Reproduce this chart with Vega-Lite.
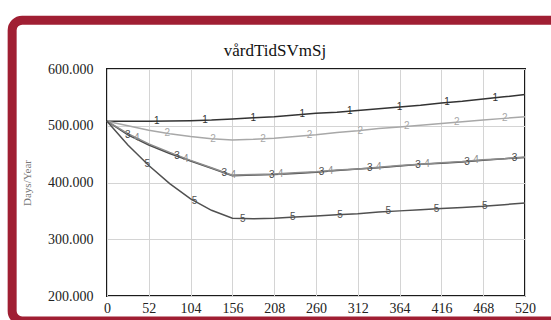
{
  "$schema": "https://vega.github.io/schema/vega-lite/v6.json",
  "autosize": {"type": "none"},
  "width": 418,
  "height": 227,
  "padding": {"left": 107, "top": 69, "right": 26, "bottom": 24},
  "background": "white",
  "title": {"text": "vårdTidSVmSj", "font": "Liberation Serif, Times New Roman, serif", "fontSize": 17, "fontWeight": "normal", "color": "#111", "anchor": "middle", "frame": "group", "dx": -41, "offset": -44},
  "config": {
    "view": {"stroke": "#1a1a1a", "strokeWidth": 2},
    "axis": {"labelFont": "Liberation Serif, Times New Roman, serif", "titleFont": "Liberation Serif, Times New Roman, serif", "labelColor": "#222", "ticks": false, "domain": false, "gridColor": "#d4d4d4", "gridWidth": 1}
  },
  "datasets": {
    "lines": [
      {"series": "1", "t": 0, "v": 508}, {"series": "1", "t": 26, "v": 508}, {"series": "1", "t": 52, "v": 508}, {"series": "1", "t": 78, "v": 508.5}, {"series": "1", "t": 104, "v": 509}, {"series": "1", "t": 130, "v": 510}, {"series": "1", "t": 156, "v": 512}, {"series": "1", "t": 182, "v": 514}, {"series": "1", "t": 208, "v": 516}, {"series": "1", "t": 234, "v": 519}, {"series": "1", "t": 260, "v": 522}, {"series": "1", "t": 286, "v": 524}, {"series": "1", "t": 312, "v": 527}, {"series": "1", "t": 338, "v": 530}, {"series": "1", "t": 364, "v": 533}, {"series": "1", "t": 390, "v": 536}, {"series": "1", "t": 416, "v": 540}, {"series": "1", "t": 442, "v": 543}, {"series": "1", "t": 468, "v": 547}, {"series": "1", "t": 494, "v": 551}, {"series": "1", "t": 520, "v": 555},
      {"series": "2", "t": 0, "v": 508}, {"series": "2", "t": 26, "v": 500}, {"series": "2", "t": 52, "v": 492}, {"series": "2", "t": 78, "v": 486}, {"series": "2", "t": 104, "v": 481}, {"series": "2", "t": 130, "v": 477}, {"series": "2", "t": 156, "v": 475}, {"series": "2", "t": 182, "v": 476}, {"series": "2", "t": 208, "v": 478}, {"series": "2", "t": 234, "v": 481}, {"series": "2", "t": 260, "v": 484}, {"series": "2", "t": 286, "v": 488}, {"series": "2", "t": 312, "v": 491}, {"series": "2", "t": 338, "v": 495}, {"series": "2", "t": 364, "v": 498}, {"series": "2", "t": 390, "v": 501}, {"series": "2", "t": 416, "v": 504}, {"series": "2", "t": 442, "v": 507}, {"series": "2", "t": 468, "v": 510}, {"series": "2", "t": 494, "v": 513}, {"series": "2", "t": 520, "v": 516},
      {"series": "3", "t": 0, "v": 508}, {"series": "3", "t": 26, "v": 484}, {"series": "3", "t": 52, "v": 466}, {"series": "3", "t": 78, "v": 451}, {"series": "3", "t": 104, "v": 438}, {"series": "3", "t": 130, "v": 425}, {"series": "3", "t": 156, "v": 412}, {"series": "3", "t": 182, "v": 413}, {"series": "3", "t": 208, "v": 414}, {"series": "3", "t": 234, "v": 416}, {"series": "3", "t": 260, "v": 418}, {"series": "3", "t": 286, "v": 421}, {"series": "3", "t": 312, "v": 424}, {"series": "3", "t": 338, "v": 426}, {"series": "3", "t": 364, "v": 429}, {"series": "3", "t": 390, "v": 432}, {"series": "3", "t": 416, "v": 434}, {"series": "3", "t": 442, "v": 436}, {"series": "3", "t": 468, "v": 439}, {"series": "3", "t": 494, "v": 442}, {"series": "3", "t": 520, "v": 444},
      {"series": "4", "t": 0, "v": 508}, {"series": "4", "t": 26, "v": 486}, {"series": "4", "t": 52, "v": 468}, {"series": "4", "t": 78, "v": 453}, {"series": "4", "t": 104, "v": 439}, {"series": "4", "t": 130, "v": 426}, {"series": "4", "t": 156, "v": 413}, {"series": "4", "t": 182, "v": 414}, {"series": "4", "t": 208, "v": 415}, {"series": "4", "t": 234, "v": 417}, {"series": "4", "t": 260, "v": 419}, {"series": "4", "t": 286, "v": 422}, {"series": "4", "t": 312, "v": 424}, {"series": "4", "t": 338, "v": 427}, {"series": "4", "t": 364, "v": 430}, {"series": "4", "t": 390, "v": 432}, {"series": "4", "t": 416, "v": 435}, {"series": "4", "t": 442, "v": 437}, {"series": "4", "t": 468, "v": 440}, {"series": "4", "t": 494, "v": 442}, {"series": "4", "t": 520, "v": 445},
      {"series": "5", "t": 0, "v": 508}, {"series": "5", "t": 26, "v": 466}, {"series": "5", "t": 52, "v": 430}, {"series": "5", "t": 78, "v": 398}, {"series": "5", "t": 104, "v": 371}, {"series": "5", "t": 130, "v": 351}, {"series": "5", "t": 156, "v": 337}, {"series": "5", "t": 182, "v": 336}, {"series": "5", "t": 208, "v": 337}, {"series": "5", "t": 234, "v": 339}, {"series": "5", "t": 260, "v": 341}, {"series": "5", "t": 286, "v": 343}, {"series": "5", "t": 312, "v": 345}, {"series": "5", "t": 338, "v": 348}, {"series": "5", "t": 364, "v": 350}, {"series": "5", "t": 390, "v": 352}, {"series": "5", "t": 416, "v": 354}, {"series": "5", "t": 442, "v": 356}, {"series": "5", "t": 468, "v": 358}, {"series": "5", "t": 494, "v": 361}, {"series": "5", "t": 520, "v": 364}
    ],
    "marks": [
      {"series": "1", "t": 62, "v": 508}, {"series": "1", "t": 122, "v": 510}, {"series": "1", "t": 182, "v": 514}, {"series": "1", "t": 243, "v": 520}, {"series": "1", "t": 302, "v": 526}, {"series": "1", "t": 364, "v": 533}, {"series": "1", "t": 423, "v": 541}, {"series": "1", "t": 483, "v": 549},
      {"series": "2", "t": 75, "v": 487}, {"series": "2", "t": 132, "v": 477}, {"series": "2", "t": 194, "v": 477}, {"series": "2", "t": 252, "v": 483}, {"series": "2", "t": 315, "v": 491}, {"series": "2", "t": 373, "v": 499}, {"series": "2", "t": 435, "v": 506}, {"series": "2", "t": 495, "v": 513},
      {"series": "3", "t": 26, "v": 484}, {"series": "3", "t": 87, "v": 446}, {"series": "3", "t": 146, "v": 417}, {"series": "3", "t": 205, "v": 414}, {"series": "3", "t": 267, "v": 419}, {"series": "3", "t": 327, "v": 425}, {"series": "3", "t": 387, "v": 431}, {"series": "3", "t": 448, "v": 437}, {"series": "3", "t": 507, "v": 443},
      {"series": "4", "t": 37, "v": 478}, {"series": "4", "t": 98, "v": 442}, {"series": "4", "t": 157, "v": 413}, {"series": "4", "t": 216, "v": 415}, {"series": "4", "t": 278, "v": 421}, {"series": "4", "t": 338, "v": 427}, {"series": "4", "t": 398, "v": 433}, {"series": "4", "t": 459, "v": 439},
      {"series": "5", "t": 50, "v": 432}, {"series": "5", "t": 109, "v": 367}, {"series": "5", "t": 169, "v": 336}, {"series": "5", "t": 231, "v": 339}, {"series": "5", "t": 290, "v": 343}, {"series": "5", "t": 350, "v": 349}, {"series": "5", "t": 410, "v": 354}, {"series": "5", "t": 470, "v": 358}
    ]
  },
  "layer": [
    {
      "data": {"name": "lines"},
      "mark": {"type": "line", "strokeWidth": 1.5},
      "encoding": {
        "x": {"field": "t", "type": "quantitative", "scale": {"domain": [0, 520], "nice": false, "zero": false},
          "axis": {"title": null, "values": [0, 26, 52, 78, 104, 130, 156, 182, 208, 234, 260, 286, 312, 338, 364, 390, 416, 442, 468, 494, 520], "labelExpr": "datum.value % 52 == 0 ? datum.label : ''", "format": "d", "labelFontSize": 14, "labelPadding": 5, "labelFlush": false}},
        "y": {"field": "v", "type": "quantitative", "scale": {"domain": [200, 600], "nice": false, "zero": false},
          "axis": {"title": "Days/Year", "titleFontSize": 11, "titleFontWeight": "normal", "titleColor": "#777", "titlePadding": 15, "values": [200, 300, 400, 500, 600], "format": ".3f", "labelFontSize": 14, "labelPadding": 14}},
        "color": {"field": "series", "type": "nominal", "scale": {"domain": ["1", "2", "3", "4", "5"], "range": ["#333333", "#a8a8a8", "#4a4a4a", "#8c8c8c", "#505050"]}, "legend": null}
      }
    },
    {
      "data": {"name": "marks"},
      "mark": {"type": "text", "font": "Liberation Sans", "fontSize": 10, "baseline": "middle", "align": "center"},
      "encoding": {
        "x": {"field": "t", "type": "quantitative"},
        "y": {"field": "v", "type": "quantitative"},
        "color": {"field": "series", "type": "nominal", "scale": {"domain": ["1", "2", "3", "4", "5"], "range": ["#333333", "#a8a8a8", "#4a4a4a", "#8c8c8c", "#505050"]}, "legend": null},
        "text": {"field": "series"}
      }
    },
    {
      "data": {"values": [{"k": 1}]},
      "mark": {"type": "rect", "filled": false, "stroke": "#a01f33", "strokeWidth": 9, "cornerRadius": 10, "clip": false},
      "encoding": {"x": {"datum": -118}, "x2": {"datum": 576}, "y": {"datum": 686}, "y2": {"datum": 156}}
    }
  ]
}
